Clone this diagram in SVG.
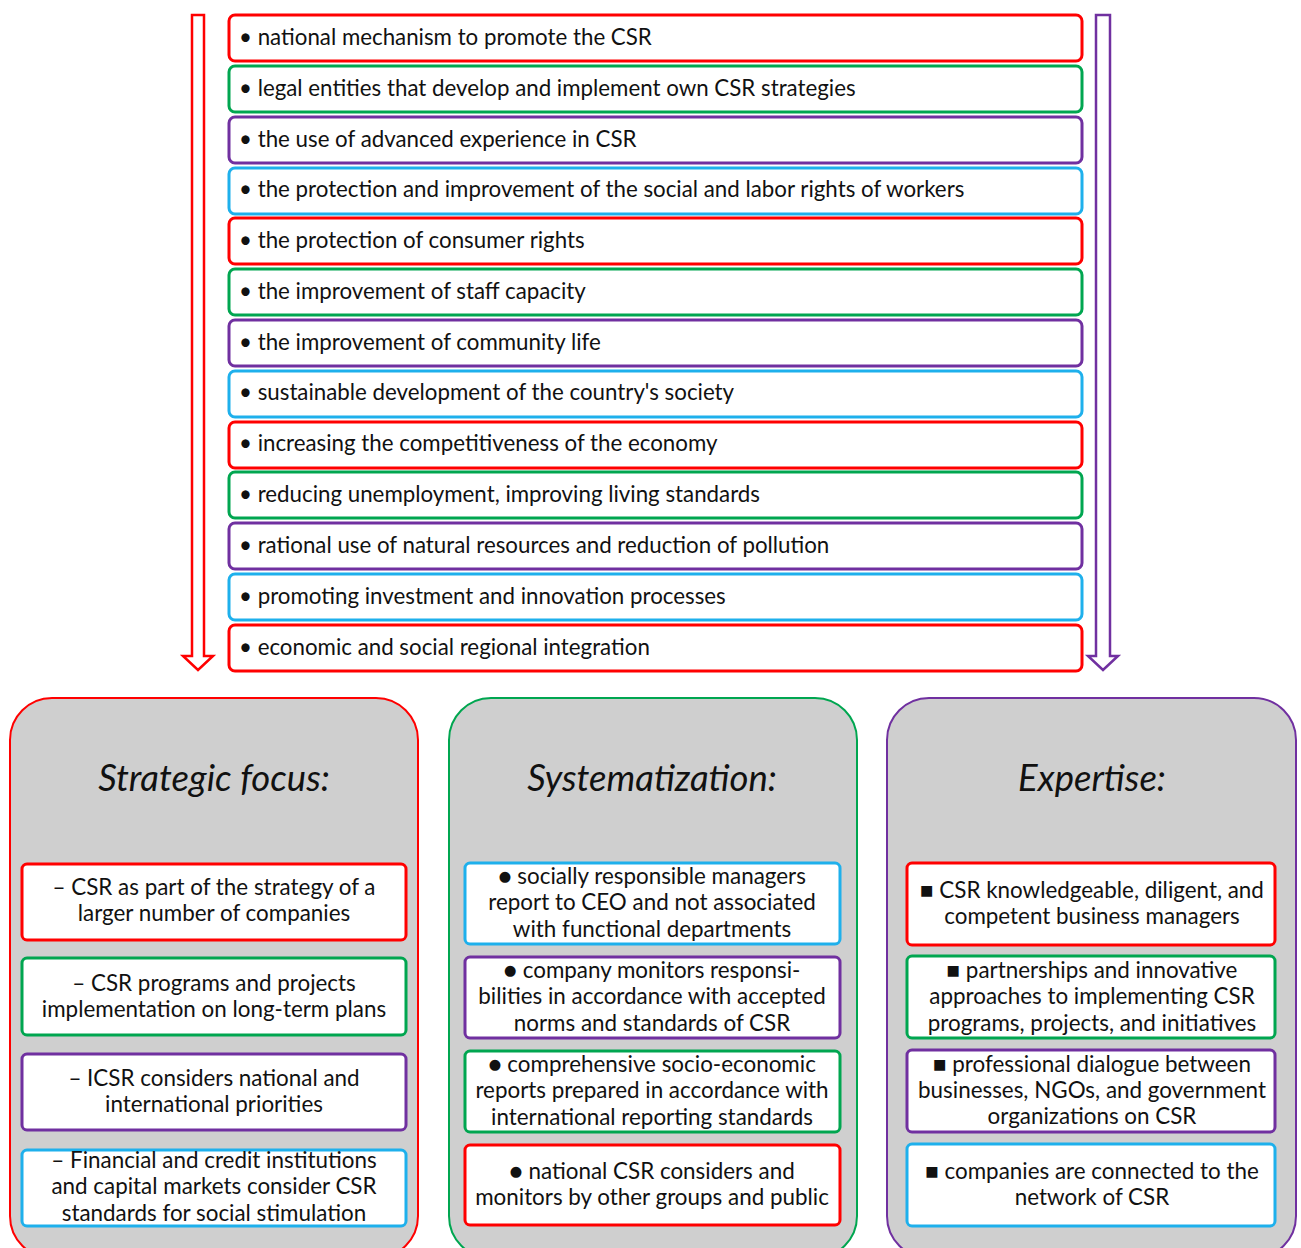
<svg xmlns="http://www.w3.org/2000/svg" width="1301" height="1248" viewBox="0 0 1301 1248">
  <style>
    .item { fill: #ffffff; stroke-width: 3; }
    .red { stroke: #ff0000; }
    .green { stroke: #00a650; }
    .purple { stroke: #7030a0; }
    .blue { stroke: #1eb0ec; }
    .lbl { font-family: Lato, "Liberation Sans", sans-serif; font-size: 22.3px; fill: #111111; }
    .mid { text-anchor: middle; font-size: 22.4px; }
    .title { font-family: Lato, "Liberation Sans", sans-serif; font-size: 36.5px; font-style: italic; fill: #111111; text-anchor: middle; }
    .panel { fill: #cfcfcf; stroke-width: 2; }
    .arrow { fill: #ffffff; stroke-width: 2.5; stroke-linejoin: miter; }
  </style>

  <!-- side arrows -->
  <g id="connectors">
    <path class="arrow" stroke="#ff0000" d="M192,15 H204 V656 H213 L198,670 L183,656 H192 Z"/>
    <path class="arrow" stroke="#7030a0" d="M1096,15 H1110 V656 H1118 L1103,670 L1088,656 H1096 Z"/>
  </g>

  <!-- top list -->
  <g id="list">
    <g id="l1"><rect class="item red" x="229" y="15" width="853" height="46" rx="6"/><text class="lbl" x="239" y="45">• national mechanism to promote the CSR</text></g>
    <g id="l2"><rect class="item green" x="229" y="66" width="853" height="46" rx="6"/><text class="lbl" x="239" y="96">• legal entities that develop and implement own CSR strategies</text></g>
    <g id="l3"><rect class="item purple" x="229" y="117" width="853" height="46" rx="6"/><text class="lbl" x="239" y="147">• the use of advanced experience in CSR</text></g>
    <g id="l4"><rect class="item blue" x="229" y="168" width="853" height="46" rx="6"/><text class="lbl" x="239" y="197">• the protection and improvement of the social and labor rights of workers</text></g>
    <g id="l5"><rect class="item red" x="229" y="218" width="853" height="46" rx="6"/><text class="lbl" x="239" y="248">• the protection of consumer rights</text></g>
    <g id="l6"><rect class="item green" x="229" y="269" width="853" height="46" rx="6"/><text class="lbl" x="239" y="299">• the improvement of staff capacity</text></g>
    <g id="l7"><rect class="item purple" x="229" y="320" width="853" height="46" rx="6"/><text class="lbl" x="239" y="350">• the improvement of community life</text></g>
    <g id="l8"><rect class="item blue" x="229" y="371" width="853" height="46" rx="6"/><text class="lbl" x="239" y="400">• sustainable development of the country's society</text></g>
    <g id="l9"><rect class="item red" x="229" y="422" width="853" height="46" rx="6"/><text class="lbl" x="239" y="451">• increasing the competitiveness of the economy</text></g>
    <g id="l10"><rect class="item green" x="229" y="472" width="853" height="46" rx="6"/><text class="lbl" x="239" y="502">• reducing unemployment, improving living standards</text></g>
    <g id="l11"><rect class="item purple" x="229" y="523" width="853" height="46" rx="6"/><text class="lbl" x="239" y="553">• rational use of natural resources and reduction of pollution</text></g>
    <g id="l12"><rect class="item blue" x="229" y="574" width="853" height="46" rx="6"/><text class="lbl" x="239" y="604">• promoting investment and innovation processes</text></g>
    <g id="l13"><rect class="item red" x="229" y="625" width="853" height="46" rx="6"/><text class="lbl" x="239" y="655">• economic and social regional integration</text></g>
  </g>

  <!-- Strategic focus panel -->
  <g id="strategic">
    <rect class="panel" stroke="#ff0000" x="10" y="698" width="408" height="560" rx="42"/>
    <text class="title" x="214" y="791">Strategic focus:</text>
    <g id="s1"><rect class="item red" x="22" y="864" width="384" height="76" rx="5"/>
      <text class="lbl mid" x="214" y="895">–  CSR as part of the strategy of a</text>
      <text class="lbl mid" x="214" y="921">larger number of companies</text></g>
    <g id="s2"><rect class="item green" x="22" y="958" width="384" height="77" rx="5"/>
      <text class="lbl mid" x="214" y="991">–  CSR programs and projects</text>
      <text class="lbl mid" x="214" y="1017">implementation on long-term plans</text></g>
    <g id="s3"><rect class="item purple" x="22" y="1054" width="384" height="76" rx="5"/>
      <text class="lbl mid" x="214" y="1086">–  ICSR considers national and</text>
      <text class="lbl mid" x="214" y="1112">international priorities</text></g>
    <g id="s4"><rect class="item blue" x="22" y="1150" width="384" height="76" rx="5"/>
      <text class="lbl mid" x="214" y="1168">–  Financial and credit institutions</text>
      <text class="lbl mid" x="214" y="1194">and capital markets consider CSR</text>
      <text class="lbl mid" x="214" y="1221">standards for social stimulation</text></g>
  </g>

  <!-- Systematization panel -->
  <g id="systematization">
    <rect class="panel" stroke="#00a650" x="449" y="698" width="408" height="560" rx="42"/>
    <text class="title" x="652" y="791">Systematization:</text>
    <g id="y1"><rect class="item blue" x="465" y="863" width="375" height="81" rx="5"/>
      <text class="lbl mid" x="652" y="884">●  socially responsible managers</text>
      <text class="lbl mid" x="652" y="910">report to CEO and not associated</text>
      <text class="lbl mid" x="652" y="937">with functional departments</text></g>
    <g id="y2"><rect class="item purple" x="465" y="957" width="375" height="81" rx="5"/>
      <text class="lbl mid" x="652" y="978">●  company monitors responsi-</text>
      <text class="lbl mid" x="652" y="1004">bilities in accordance with accepted</text>
      <text class="lbl mid" x="652" y="1031">norms and standards of CSR</text></g>
    <g id="y3"><rect class="item green" x="465" y="1051" width="375" height="81" rx="5"/>
      <text class="lbl mid" x="652" y="1072">●  comprehensive socio-economic</text>
      <text class="lbl mid" x="652" y="1098">reports prepared in accordance with</text>
      <text class="lbl mid" x="652" y="1125">international reporting standards</text></g>
    <g id="y4"><rect class="item red" x="465" y="1145" width="375" height="80" rx="5"/>
      <text class="lbl mid" x="652" y="1179">●  national CSR considers and</text>
      <text class="lbl mid" x="652" y="1205">monitors by other groups and public</text></g>
  </g>

  <!-- Expertise panel -->
  <g id="expertise">
    <rect class="panel" stroke="#7030a0" x="887" y="698" width="409" height="560" rx="42"/>
    <text class="title" x="1092" y="791">Expertise:</text>
    <g id="e1"><rect class="item red" x="907" y="863" width="368" height="82" rx="5"/>
      <text class="lbl mid" x="1092" y="898">■  CSR knowledgeable, diligent, and</text>
      <text class="lbl mid" x="1092" y="924">competent business managers</text></g>
    <g id="e2"><rect class="item green" x="907" y="956" width="368" height="82" rx="5"/>
      <text class="lbl mid" x="1092" y="978">■  partnerships and innovative</text>
      <text class="lbl mid" x="1092" y="1004">approaches to implementing CSR</text>
      <text class="lbl mid" x="1092" y="1031">programs, projects, and initiatives</text></g>
    <g id="e3"><rect class="item purple" x="907" y="1050" width="368" height="82" rx="5"/>
      <text class="lbl mid" x="1092" y="1072">■  professional dialogue between</text>
      <text class="lbl mid" x="1092" y="1098">businesses, NGOs, and government</text>
      <text class="lbl mid" x="1092" y="1124">organizations on CSR</text></g>
    <g id="e4"><rect class="item blue" x="907" y="1144" width="368" height="82" rx="5"/>
      <text class="lbl mid" x="1092" y="1179">■  companies are connected to the</text>
      <text class="lbl mid" x="1092" y="1205">network of CSR</text></g>
  </g>
</svg>
